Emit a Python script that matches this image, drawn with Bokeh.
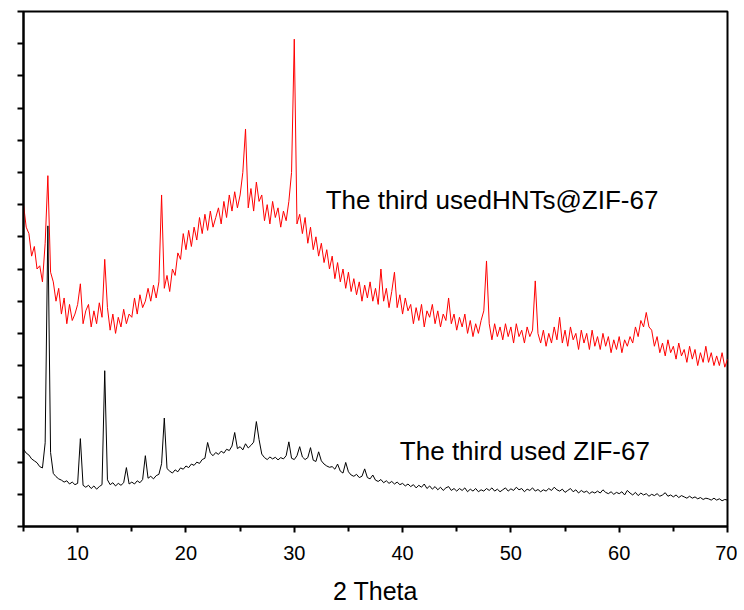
from bokeh.plotting import figure
from bokeh.models import Range1d, FixedTicker, Label
from bokeh.embed import file_html
from bokeh.resources import INLINE

# ---- data ----
two_theta = [
    5.00, 5.25, 5.50, 5.75, 6.00, 6.25, 6.50, 6.75,
    7.00, 7.25, 7.50, 7.75, 8.00, 8.25, 8.50, 8.75,
    9.00, 9.25, 9.50, 9.75, 10.00, 10.25, 10.50, 10.75,
    11.00, 11.25, 11.50, 11.75, 12.00, 12.25, 12.50, 12.75,
    13.00, 13.25, 13.50, 13.75, 14.00, 14.25, 14.50, 14.75,
    15.00, 15.25, 15.50, 15.75, 16.00, 16.25, 16.50, 16.75,
    17.00, 17.25, 17.50, 17.75, 18.00, 18.25, 18.50, 18.75,
    19.00, 19.25, 19.50, 19.75, 20.00, 20.25, 20.50, 20.75,
    21.00, 21.25, 21.50, 21.75, 22.00, 22.25, 22.50, 22.75,
    23.00, 23.25, 23.50, 23.75, 24.00, 24.25, 24.50, 24.75,
    25.00, 25.25, 25.50, 25.75, 26.00, 26.25, 26.50, 26.75,
    27.00, 27.25, 27.50, 27.75, 28.00, 28.25, 28.50, 28.75,
    29.00, 29.25, 29.50, 29.75, 30.00, 30.25, 30.50, 30.75,
    31.00, 31.25, 31.50, 31.75, 32.00, 32.25, 32.50, 32.75,
    33.00, 33.25, 33.50, 33.75, 34.00, 34.25, 34.50, 34.75,
    35.00, 35.25, 35.50, 35.75, 36.00, 36.25, 36.50, 36.75,
    37.00, 37.25, 37.50, 37.75, 38.00, 38.25, 38.50, 38.75,
    39.00, 39.25, 39.50, 39.75, 40.00, 40.25, 40.50, 40.75,
    41.00, 41.25, 41.50, 41.75, 42.00, 42.25, 42.50, 42.75,
    43.00, 43.25, 43.50, 43.75, 44.00, 44.25, 44.50, 44.75,
    45.00, 45.25, 45.50, 45.75, 46.00, 46.25, 46.50, 46.75,
    47.00, 47.25, 47.50, 47.75, 48.00, 48.25, 48.50, 48.75,
    49.00, 49.25, 49.50, 49.75, 50.00, 50.25, 50.50, 50.75,
    51.00, 51.25, 51.50, 51.75, 52.00, 52.25, 52.50, 52.75,
    53.00, 53.25, 53.50, 53.75, 54.00, 54.25, 54.50, 54.75,
    55.00, 55.25, 55.50, 55.75, 56.00, 56.25, 56.50, 56.75,
    57.00, 57.25, 57.50, 57.75, 58.00, 58.25, 58.50, 58.75,
    59.00, 59.25, 59.50, 59.75, 60.00, 60.25, 60.50, 60.75,
    61.00, 61.25, 61.50, 61.75, 62.00, 62.25, 62.50, 62.75,
    63.00, 63.25, 63.50, 63.75, 64.00, 64.25, 64.50, 64.75,
    65.00, 65.25, 65.50, 65.75, 66.00, 66.25, 66.50, 66.75,
    67.00, 67.25, 67.50, 67.75, 68.00, 68.25, 68.50, 68.75,
    69.00, 69.25, 69.50, 69.75, 70.00,
]

intensity_hnts_zif67 = [
    10.0, 9.3, 9.1, 8.4, 8.7, 8.0, 8.1, 7.6,
    8.8, 10.9, 7.9, 7.6, 7.0, 7.4, 6.6, 7.1,
    6.3, 6.9, 6.4, 6.6, 6.9, 7.54, 6.3, 6.7,
    6.9, 6.2, 6.7, 6.3, 6.95, 6.5, 8.3, 6.8,
    6.1, 6.6, 6.0, 6.5, 6.2, 6.75, 6.3, 6.6,
    6.5, 7.1, 6.6, 7.2, 6.8, 7.0, 7.4, 7.0,
    7.5, 7.1, 7.6, 10.3, 7.4, 7.8, 7.3, 8.0,
    7.8, 8.5, 8.3, 9.1, 8.6, 9.2, 8.7, 9.3,
    8.9, 9.6, 9.1, 9.7, 9.2, 9.8, 9.3, 9.6,
    9.9, 9.4, 10.1, 9.6, 10.3, 9.8, 10.4, 9.9,
    10.3, 11.0, 12.35, 9.9, 10.5, 9.8, 10.7, 10.1,
    10.3, 9.5, 10.0, 9.4, 10.1, 9.6, 9.9, 9.3,
    9.8, 9.5, 10.1, 11.0, 15.14, 9.4, 9.7, 9.1,
    9.6, 8.8, 9.3, 8.6, 9.0, 8.4, 8.8, 8.2,
    8.6, 8.0, 8.4, 7.7, 8.2, 7.6, 8.0, 7.4,
    7.9, 7.3, 7.7, 7.2, 7.6, 7.0, 7.5, 7.1,
    7.6, 7.0, 7.4, 6.9, 8.0, 7.0, 7.4, 6.8,
    7.3, 7.9, 6.8, 7.2, 6.6, 7.1, 6.7, 6.9,
    6.3, 6.8, 6.4, 6.9, 6.2, 6.7, 6.5, 6.9,
    6.3, 6.7, 6.2, 6.6, 6.4, 7.1, 6.3, 6.6,
    6.1, 6.5, 6.2, 6.6, 6.0, 6.4, 5.9, 6.3,
    6.0, 6.4, 6.7, 8.25, 6.3, 5.8, 6.3, 5.9,
    6.2, 5.8, 6.3, 5.9, 6.2, 5.7, 6.3, 5.9,
    6.1, 5.7, 6.2, 5.9, 6.1, 7.63, 6.0, 5.7,
    6.1, 5.6, 6.0, 5.7, 6.2, 5.8, 6.5, 5.7,
    6.1, 5.6, 6.2, 5.8, 6.0, 5.5, 6.1, 5.7,
    6.0, 5.5, 6.1, 5.6, 5.9, 5.5, 6.0, 5.6,
    5.9, 5.4, 5.8, 5.5, 5.9, 5.4, 5.8, 5.6,
    5.9, 5.7, 6.2, 5.9, 6.4, 6.2, 6.65, 6.2,
    6.1, 5.6, 5.9, 5.4, 5.7, 5.3, 5.8, 5.4,
    5.6, 5.2, 5.7, 5.3, 5.5, 5.1, 5.6, 5.2,
    5.5, 5.0, 5.4, 5.1, 5.6, 5.1, 5.4, 5.0,
    5.3, 5.0, 5.4, 4.95, 5.2,
]

intensity_zif67 = [
    2.40, 2.28, 2.22, 2.10, 2.04, 1.98, 1.86, 1.82,
    2.60, 9.34, 2.30, 1.65, 1.55, 1.48, 1.44, 1.38,
    1.42, 1.32, 1.38, 1.30, 1.34, 2.73, 1.28, 1.22,
    1.28, 1.18, 1.26, 1.16, 1.24, 1.30, 4.84, 1.45,
    1.30, 1.36, 1.26, 1.34, 1.28, 1.36, 1.83, 1.32,
    1.38, 1.32, 1.42, 1.36, 1.46, 2.20, 1.50, 1.56,
    1.48, 1.58, 1.62, 1.95, 3.37, 1.80, 1.72, 1.66,
    1.76, 1.70, 1.82, 1.78, 1.88, 1.83, 1.94, 1.90,
    2.00, 1.96, 2.08, 2.12, 2.61, 2.28, 2.20, 2.30,
    2.24, 2.34, 2.28, 2.40, 2.36, 2.50, 2.92, 2.42,
    2.48, 2.38, 2.57, 2.44, 2.52, 2.62, 3.26, 2.70,
    2.25, 2.14, 2.08, 2.16, 2.10, 2.15, 2.07, 2.14,
    2.10, 2.20, 2.63, 2.12, 2.08, 2.20, 2.48, 2.16,
    2.08, 2.14, 2.45, 2.06, 2.02, 2.32, 2.04, 1.94,
    1.88, 1.84, 1.86, 1.78, 1.94, 1.72, 1.66, 1.99,
    1.70, 1.60, 1.56, 1.62, 1.52, 1.56, 1.79, 1.52,
    1.48, 1.60, 1.44, 1.40, 1.46, 1.36, 1.42, 1.34,
    1.40, 1.32, 1.38, 1.30, 1.34, 1.26, 1.32, 1.24,
    1.30, 1.20, 1.28, 1.22, 1.32, 1.18, 1.26, 1.16,
    1.24, 1.14, 1.22, 1.12, 1.20, 1.24, 1.12, 1.18,
    1.10, 1.18, 1.12, 1.20, 1.08, 1.16, 1.10, 1.18,
    1.08, 1.14, 1.10, 1.18, 1.12, 1.20, 1.10, 1.16,
    1.08, 1.14, 1.20, 1.10, 1.17, 1.12, 1.22, 1.14,
    1.18, 1.08, 1.16, 1.12, 1.20, 1.10, 1.15, 1.08,
    1.14, 1.10, 1.18, 1.12, 1.22, 1.14, 1.10, 1.16,
    1.06, 1.12, 1.18, 1.08, 1.14, 1.04, 1.12, 1.06,
    1.10, 1.02, 1.08, 1.04, 1.10, 1.04, 1.14, 1.06,
    1.02, 1.08, 1.00, 1.06, 1.02, 1.08, 0.98, 1.12,
    1.04, 0.98, 1.06, 0.96, 1.04, 0.98, 1.02, 0.94,
    1.00, 0.96, 1.02, 0.94, 0.98, 1.05, 0.94, 0.98,
    0.92, 0.98, 0.90, 0.96, 0.92, 0.88, 0.94, 0.88,
    0.92, 0.86, 0.90, 0.84, 0.88, 0.86, 0.82, 0.88,
    0.82, 0.86, 0.80, 0.84, 0.82,
]

x_major_ticks = [10, 20, 30, 40, 50, 60, 70]
x_minor_ticks = [5, 15, 25, 35, 45, 55, 65]
y_ticks = list(range(0, 17))

label_hnts = "The third usedHNTs@ZIF-67"
label_zif = "The third used ZIF-67"
x_title = "2 Theta"

assert len(two_theta) == len(intensity_hnts_zif67) == len(intensity_zif67)

FONT = "Liberation Sans"

p = figure(
    frame_width=704, frame_height=515,
    x_range=Range1d(5, 70), y_range=Range1d(0, 16),
    output_backend="svg", toolbar_location=None,
    min_border_left=23, min_border_top=11, min_border_right=10, min_border_bottom=6,
)
p.background_fill_color = "white"
p.border_fill_color = "white"
p.outline_line_color = "black"
p.outline_line_width = 2
p.xgrid.visible = False
p.ygrid.visible = False

p.line(two_theta, intensity_hnts_zif67, line_color="#ff0000", line_width=1)
p.line(two_theta, intensity_zif67, line_color="black", line_width=1)

xa = p.xaxis[0]
xa.ticker = FixedTicker(ticks=x_major_ticks, minor_ticks=x_minor_ticks)
xa.axis_line_width = 2
xa.major_tick_line_width = 2
xa.minor_tick_line_width = 2
xa.major_tick_in = 0
xa.major_tick_out = 6
xa.minor_tick_in = 0
xa.minor_tick_out = 5
xa.major_label_text_font = FONT
xa.major_label_text_font_size = "20px"
xa.major_label_text_color = "black"
xa.major_label_standoff = 13
xa.axis_label = x_title
xa.axis_label_text_font = FONT
xa.axis_label_text_font_size = "25px"
xa.axis_label_text_font_style = "normal"
xa.axis_label_text_color = "black"
xa.axis_label_standoff = 14

ya = p.yaxis[0]
ya.ticker = FixedTicker(ticks=y_ticks, minor_ticks=[])
ya.axis_line_width = 2
ya.major_tick_line_width = 2
ya.major_tick_in = 0
ya.major_tick_out = 6
ya.minor_tick_line_color = None
ya.major_label_overrides = {t: "" for t in y_ticks}
ya.major_label_text_color = None
ya.major_label_text_font_size = "8px"
ya.major_label_standoff = 0

p.add_layout(Label(x=32.9, y=10.15, text=label_hnts, text_font=FONT,
                   text_font_size="26px", text_color="black",
                   text_baseline="alphabetic", text_align="left"))
p.add_layout(Label(x=39.75, y=2.34, text=label_zif, text_font=FONT,
                   text_font_size="26px", text_color="black",
                   text_baseline="alphabetic", text_align="left"))

open("out.html", "w").write(file_html(p, INLINE))
